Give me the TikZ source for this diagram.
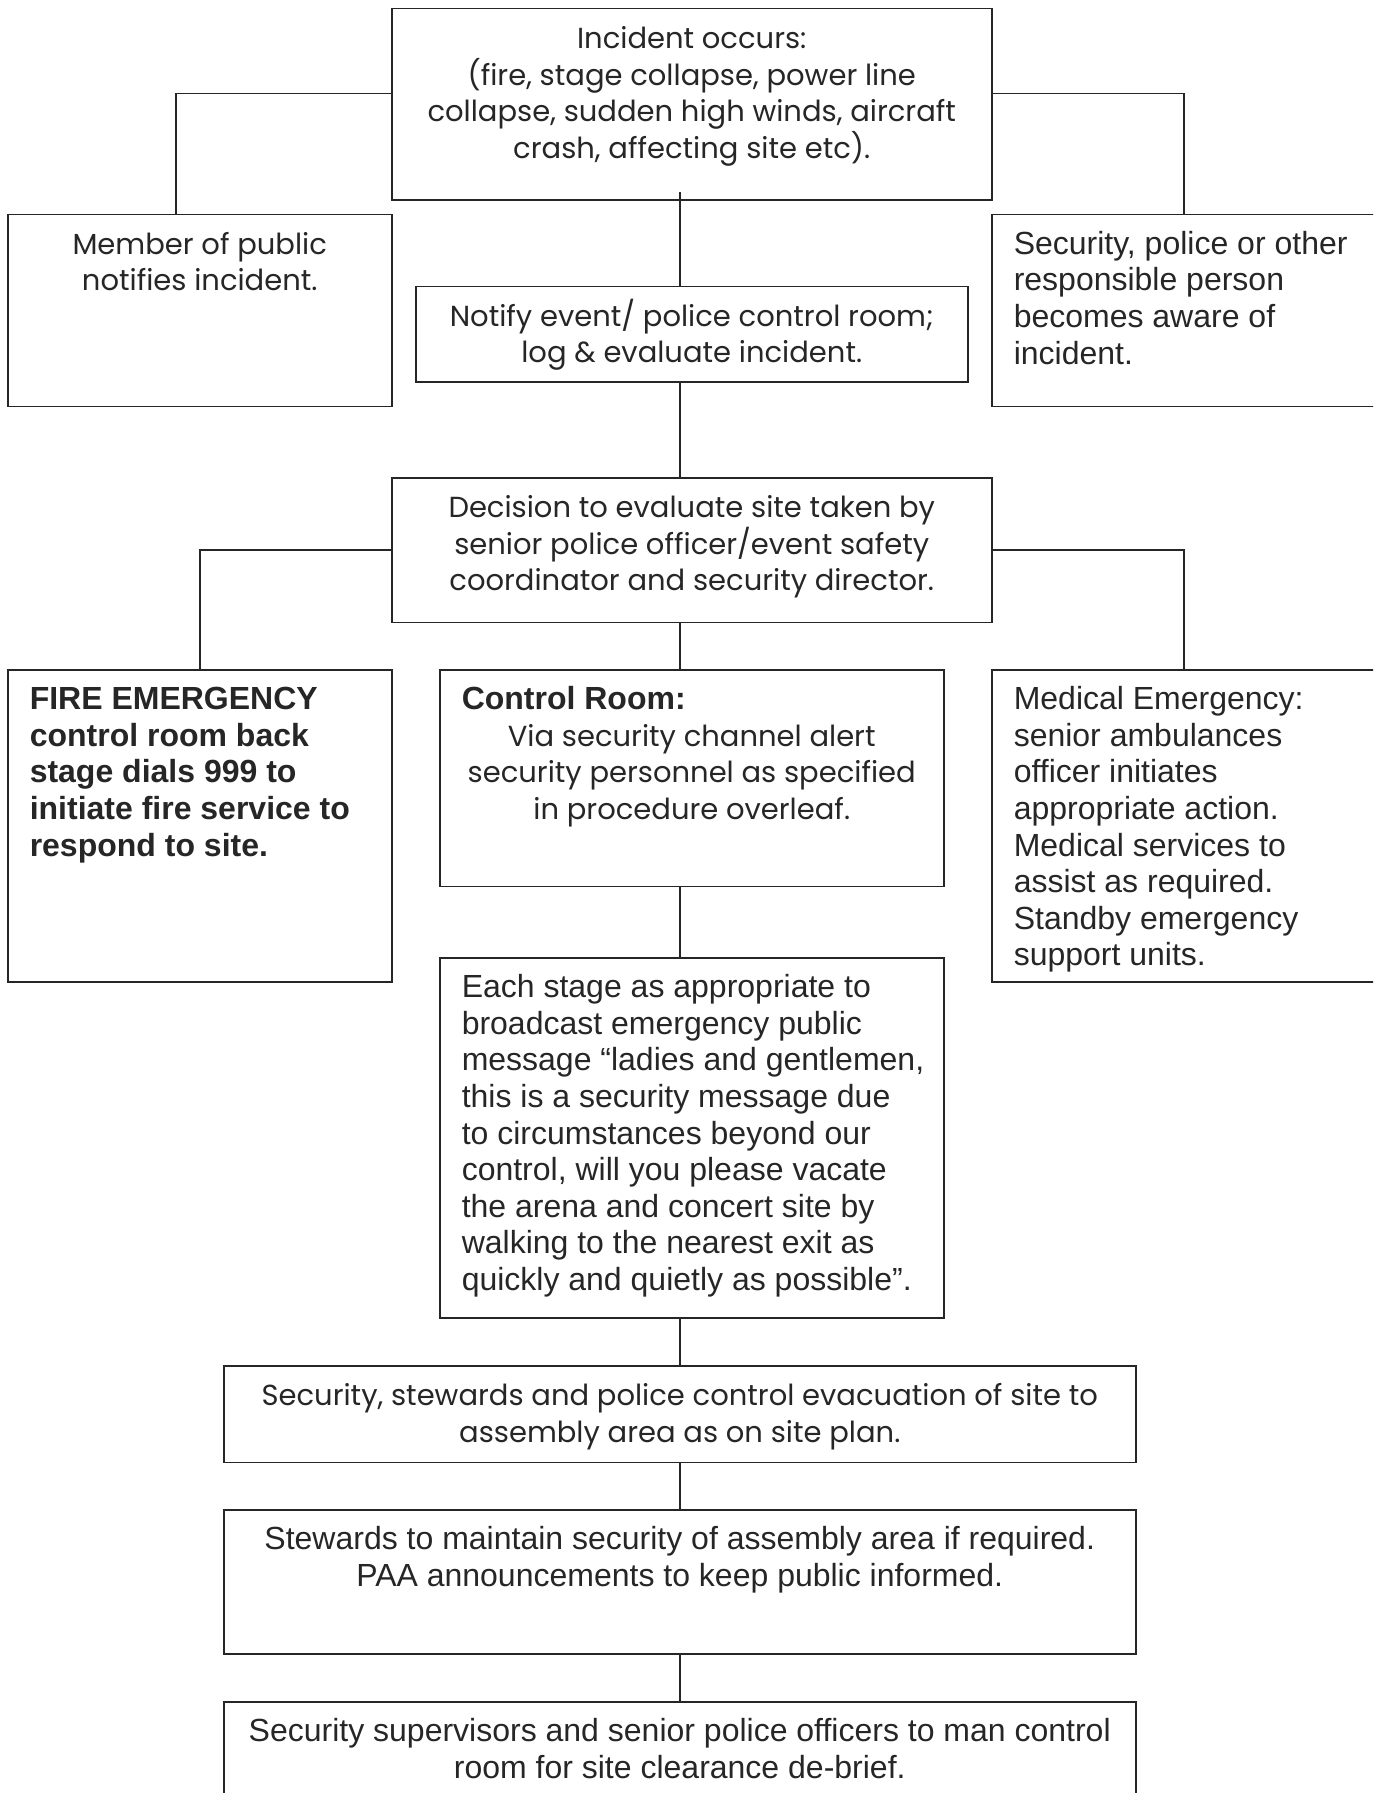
\documentclass[tikz,border=0pt]{standalone}
\usepackage{fontspec}
\usepackage{tikz}
\usetikzlibrary{calc}
\setmainfont{Liberation Sans}
\newfontfamily\gothic{Poppins}
\newcommand{\cg}{\gothic\fontsize{29pt}{36.6pt}\selectfont}
\newcommand{\boxtext}[4]{\parbox[t][#2pt][t]{#1pt}{\fontsize{32pt}{36.6pt}\selectfont#3\rule{0pt}{40pt}#4}}
\newcommand{\lft}{\raggedright\leftskip=22pt\relax}

\begin{document}
\begin{tikzpicture}[x=1pt,y=-1pt,
  box/.style={draw=black!85,line width=1.5pt,inner sep=0pt,anchor=north west,text=black!85},
  link/.style={draw=black!85,line width=1.5pt}]
\clip (0,0) rectangle (1373,1793);

\node[box] (incident) at (391,8) {\boxtext{600}{191}{\centering\cg}{Incident occurs:\\(fire, stage collapse, power line\\collapse, sudden high winds, aircraft\\crash, affecting site etc).}};
\node[box] (public) at (7,213.5) {\boxtext{384}{192}{\centering\cg}{Member of public\\notifies incident.}};
\node[box] (aware) at (991,213.5) {\boxtext{386}{192}{\lft}{Security, police or other\\responsible person\\becomes aware of\\incident.}};
\node[box] (notify) at (415,285.5) {\boxtext{552}{95.5}{\centering\cg}{Notify event/ police control room;\\log \& evaluate incident.}};
\node[box] (decision) at (391,477) {\boxtext{600}{144.5}{\centering\cg}{Decision to evaluate site taken by\\senior police officer/event safety\\coordinator and security director.}};

\node[box] (fire) at (7,669) {\boxtext{384}{312}{\lft\bfseries}{FIRE EMERGENCY\\control room back\\stage dials 999 to\\initiate fire service to\\respond to site.}};
\node[box] (control) at (439,669) {\boxtext{504}{216.5}{\lft}{\textbf{Control Room:}\par
  \centering\cg Via security channel alert\\security personnel as specified\\in procedure overleaf.\par}};
\node[box] (medical) at (991,669) {\boxtext{386}{312}{\lft}{Medical Emergency:\\senior ambulances\\officer initiates\\appropriate action.\\Medical services to\\assist as required.\\Standby emergency\\support units.}};
\node[box] (broadcast) at (439,957) {\boxtext{504}{360}{\lft}{Each stage as appropriate to\\broadcast emergency public\\message “ladies and gentlemen,\\this is a security message due\\to circumstances beyond our\\control, will you please vacate\\the arena and concert site by\\walking to the nearest exit as\\quickly and quietly as possible”.}};

\node[box] (evacuate) at (223,1365) {\boxtext{912}{96.5}{\centering\cg}{Security, stewards and police control evacuation of site to\\assembly area as on site plan.}};
\node[box] (maintain) at (223,1509) {\boxtext{912}{144}{\centering}{Stewards to maintain security of assembly area if required.\\PAA announcements to keep public informed.}};
\node[box] (debrief) at (223,1701) {\boxtext{912}{120}{\centering}{Security supervisors and senior police officers to man control\\room for site clearance de-brief.}};

\draw[link] ($(incident.south -| evacuate.north)+(0,-9)$) -- (notify.north -| evacuate.north);
\draw[link] (notify.south -| evacuate.north) -- (decision.north -| evacuate.north);
\draw[link] (decision.south -| evacuate.north) -- (control.north -| evacuate.north);
\draw[link] (control.south -| evacuate.north) -- (broadcast.north -| evacuate.north);
\draw[link] (broadcast.south -| evacuate.north) -- (evacuate.north);
\draw[link] (evacuate.south) -- (maintain.north); \draw[link] (maintain.south) -- (debrief.north);
\draw[link] ([yshift=10.7pt]incident.west) -| ([xshift=-24pt]public.north);
\draw[link] ([yshift=10.7pt]incident.east) -| ([xshift=-1pt]aware.north);
\draw[link] (decision.west) -| (fire.north); \draw[link] (decision.east) -| ([xshift=-1pt]medical.north);

\end{tikzpicture}
\end{document}
